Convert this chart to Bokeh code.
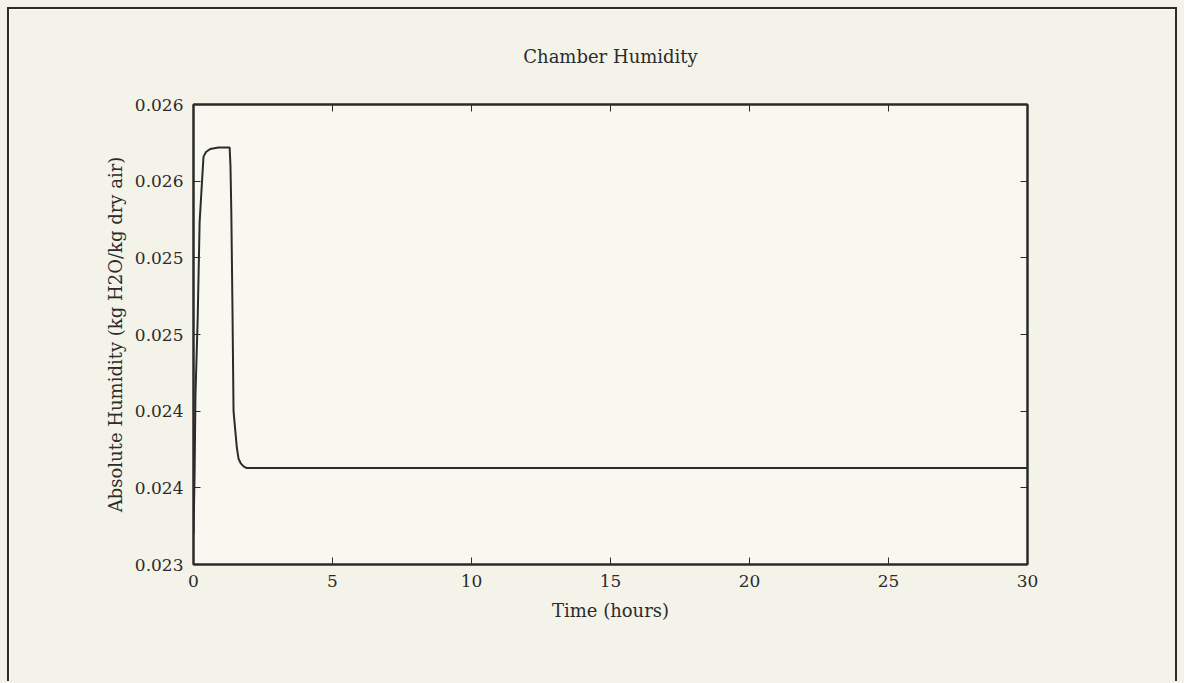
from bokeh.plotting import figure
from bokeh.models import FixedTicker, LinearAxis, Range1d
from bokeh.embed import file_html
from bokeh.resources import INLINE

# Data
time_hours = [0.0, 0.04, 0.07, 0.15, 0.22, 0.30, 0.36, 0.45, 0.60, 0.9, 1.2, 1.30,
              1.33, 1.36, 1.40, 1.44, 1.50, 1.56, 1.62, 1.70, 1.80, 1.90, 2.0,
              5.0, 10.0, 15.0, 20.0, 25.0, 30.0]
humidity = [0.02320, 0.02360, 0.02410, 0.02460, 0.02523, 0.02548, 0.02566, 0.02569, 0.02571,
            0.02572, 0.02572, 0.02572,
            0.02560, 0.02530, 0.02470, 0.02400, 0.02388, 0.02376, 0.02369, 0.02366, 0.02364,
            0.02363, 0.02363,
            0.02363, 0.02363, 0.02363, 0.02363, 0.02363, 0.02363]

x_ticks = [0, 5, 10, 15, 20, 25, 30]
y_ticks = [0.023, 0.0235, 0.024, 0.0245, 0.025, 0.0255, 0.026]
y_labels = ["0.023", "0.024", "0.024", "0.025", "0.025", "0.026", "0.026"]

FONT = "DejaVu Serif"
INK = "#2b2b2b"
PAPER = "#f4f3e9"

p = figure(width=1170, height=674, output_backend="svg", toolbar_location=None,
           x_range=Range1d(0, 30), y_range=Range1d(0.023, 0.026),
           title="Chamber Humidity",
           min_border_left=184, min_border_right=152, min_border_top=66, min_border_bottom=119)

p.styles = {"margin-left": "7px", "margin-top": "7px",
            "border-left": "2px solid " + INK, "border-top": "2px solid " + INK,
            "border-right": "2px solid " + INK,
            "box-shadow": "0 0 0 7px " + PAPER}

p.border_fill_color = PAPER
p.background_fill_color = "#f9f8f0"
p.outline_line_color = INK
p.outline_line_width = 2
p.grid.visible = False

p.title.align = "center"
p.title.vertical_align = "top"
p.title.text_font = FONT
p.title.text_font_size = "18px"
p.title.text_font_style = "normal"
p.title.text_color = INK
p.title.standoff = 72

p.line(time_hours, humidity, line_color=INK, line_width=2)

p.xaxis.ticker = FixedTicker(ticks=x_ticks)
p.yaxis.ticker = FixedTicker(ticks=y_ticks)
p.yaxis.major_label_overrides = {t: l for t, l in zip(y_ticks, y_labels)}

for ax in (p.xaxis[0], p.yaxis[0]):
    ax.major_tick_in = 7
    ax.major_tick_out = 0
    ax.minor_tick_in = 0
    ax.minor_tick_out = 0
    ax.axis_line_color = INK
    ax.axis_line_width = 2
    ax.major_tick_line_color = INK
    ax.major_tick_line_width = 1
    ax.major_label_text_font = FONT
    ax.major_label_text_font_size = "17px"
    ax.major_label_text_color = INK
    ax.axis_label_text_font = FONT
    ax.axis_label_text_font_size = "18px"
    ax.axis_label_text_font_style = "normal"
    ax.axis_label_text_color = INK

p.xaxis.axis_label = "Time (hours)"
p.yaxis.axis_label = "Absolute Humidity (kg H2O/kg dry air)"
p.xaxis.major_label_standoff = 10
p.yaxis.major_label_standoff = 10
p.xaxis.axis_label_standoff = 10
p.yaxis.axis_label_standoff = 6

# mirrored tick marks on top and right (box style)
top = LinearAxis(ticker=FixedTicker(ticks=x_ticks))
right = LinearAxis(ticker=FixedTicker(ticks=y_ticks))
for ax in (top, right):
    ax.major_tick_in = 7
    ax.major_tick_out = 0
    ax.minor_tick_in = 0
    ax.minor_tick_out = 0
    ax.axis_line_color = INK
    ax.axis_line_width = 2
    ax.major_tick_line_color = INK
    ax.major_label_text_color = None
    ax.major_label_text_font_size = "0px"
    ax.major_label_standoff = 0
p.add_layout(top, "above")
p.add_layout(right, "right")

open("out.html", "w").write(file_html(p, INLINE))
